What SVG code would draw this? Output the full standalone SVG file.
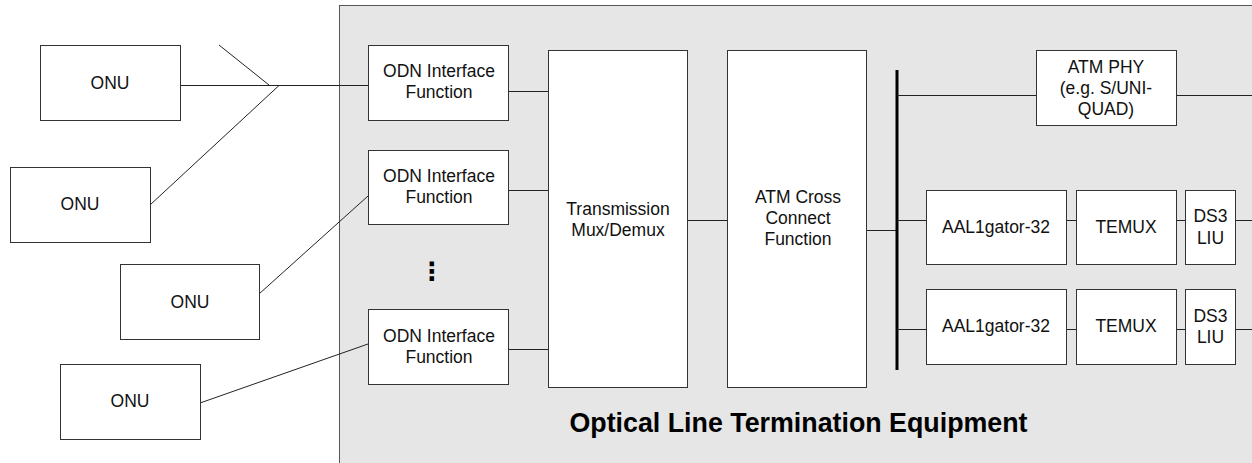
<svg xmlns="http://www.w3.org/2000/svg" width="1252" height="463" viewBox="0 0 1252 463">
<style>
.box{fill:#fff;stroke:#333;stroke-width:1}
.t{font-family:"Liberation Sans",Arial,sans-serif;font-size:17.5px;fill:#111;text-anchor:middle}
.c{stroke:#222;stroke-width:1;fill:none}
</style>
<rect id="olt" x="339.5" y="5.5" width="920" height="470" fill="#e6e6e6" stroke="#555" stroke-width="1"/>
<g id="connectors">
<line class="c" x1="180" y1="85.5" x2="368" y2="85.5"/>
<line class="c" x1="219" y1="45" x2="269" y2="85"/>
<line class="c" x1="150" y1="205" x2="279" y2="85.5"/>
<line class="c" x1="259" y1="294" x2="368" y2="196"/>
<line class="c" x1="200" y1="403" x2="368" y2="344"/>
<line class="c" x1="508" y1="91.5" x2="548" y2="91.5"/>
<line class="c" x1="508" y1="190.5" x2="548" y2="190.5"/>
<line class="c" x1="508" y1="349.5" x2="548" y2="349.5"/>
<line class="c" x1="687" y1="220.5" x2="727" y2="220.5"/>
<line class="c" x1="867" y1="230.5" x2="897" y2="230.5"/>
<line x1="897" y1="70" x2="897" y2="370" stroke="#000" stroke-width="3"/>
<line class="c" x1="897" y1="95.5" x2="1036" y2="95.5"/>
<line class="c" x1="1176" y1="95.5" x2="1252" y2="95.5"/>
<line class="c" x1="897" y1="220.5" x2="926" y2="220.5"/>
<line class="c" x1="1066" y1="220.5" x2="1076" y2="220.5"/>
<line class="c" x1="1176" y1="220.5" x2="1185" y2="220.5"/>
<line class="c" x1="1236" y1="220.5" x2="1252" y2="220.5"/>
<line class="c" x1="897" y1="329.5" x2="926" y2="329.5"/>
<line class="c" x1="1066" y1="329.5" x2="1076" y2="329.5"/>
<line class="c" x1="1176" y1="329.5" x2="1185" y2="329.5"/>
<line class="c" x1="1236" y1="329.5" x2="1252" y2="329.5"/>
</g>
<g id="onu1"><rect class="box" x="40.5" y="45.5" width="140" height="75"/><text class="t" x="110" y="89">ONU</text></g>
<g id="onu2"><rect class="box" x="10.5" y="167.5" width="140" height="75"/><text class="t" x="80" y="210">ONU</text></g>
<g id="onu3"><rect class="box" x="120.5" y="264.5" width="139" height="75"/><text class="t" x="190" y="308">ONU</text></g>
<g id="onu4"><rect class="box" x="60.5" y="364.5" width="140" height="75"/><text class="t" x="130" y="407">ONU</text></g>
<g id="odn1"><rect class="box" x="368.5" y="45.5" width="140" height="75"/><text class="t" x="439" y="77">ODN Interface</text><text class="t" x="439" y="98">Function</text></g>
<g id="odn2"><rect class="box" x="368.5" y="150.5" width="140" height="74"/><text class="t" x="439" y="182">ODN Interface</text><text class="t" x="439" y="203">Function</text></g>
<g id="dots"><text x="432" y="280" font-family="'DejaVu Sans',sans-serif" font-size="25px" font-weight="bold" text-anchor="middle" fill="#000">⋮</text></g>
<g id="odn3"><rect class="box" x="368.5" y="309.5" width="140" height="75"/><text class="t" x="439" y="342">ODN Interface</text><text class="t" x="439" y="363">Function</text></g>
<g id="trans"><rect class="box" x="548.5" y="50.5" width="139" height="337"/><text class="t" x="618" y="215">Transmission</text><text class="t" x="618" y="236">Mux/Demux</text></g>
<g id="atmcc"><rect class="box" x="727.5" y="50.5" width="139" height="337"/><text class="t" x="798" y="203">ATM Cross</text><text class="t" x="798" y="224">Connect</text><text class="t" x="798" y="245">Function</text></g>
<g id="atmphy"><rect class="box" x="1036.5" y="50.5" width="140" height="75"/><text class="t" x="1106" y="73">ATM PHY</text><text class="t" x="1106" y="94">(e.g. S/UNI-</text><text class="t" x="1106" y="115">QUAD)</text></g>
<g id="aal1"><rect class="box" x="926.5" y="190.5" width="140" height="74"/><text class="t" x="996" y="233">AAL1gator-32</text></g>
<g id="temux1"><rect class="box" x="1076.5" y="190.5" width="100" height="74"/><text class="t" x="1126" y="233">TEMUX</text></g>
<g id="ds31"><rect class="box" x="1185.5" y="190.5" width="50" height="74"/><text class="t" x="1210.5" y="222">DS3</text><text class="t" x="1210.5" y="244">LIU</text></g>
<g id="aal2"><rect class="box" x="926.5" y="289.5" width="140" height="75"/><text class="t" x="996" y="332">AAL1gator-32</text></g>
<g id="temux2"><rect class="box" x="1076.5" y="289.5" width="100" height="75"/><text class="t" x="1126" y="332">TEMUX</text></g>
<g id="ds32"><rect class="box" x="1185.5" y="289.5" width="50" height="75"/><text class="t" x="1210.5" y="322">DS3</text><text class="t" x="1210.5" y="343">LIU</text></g>
<text x="798.5" y="432" font-family="'Liberation Sans',Arial,sans-serif" font-size="26.8px" font-weight="bold" text-anchor="middle" fill="#000">Optical Line Termination Equipment</text>
</svg>
